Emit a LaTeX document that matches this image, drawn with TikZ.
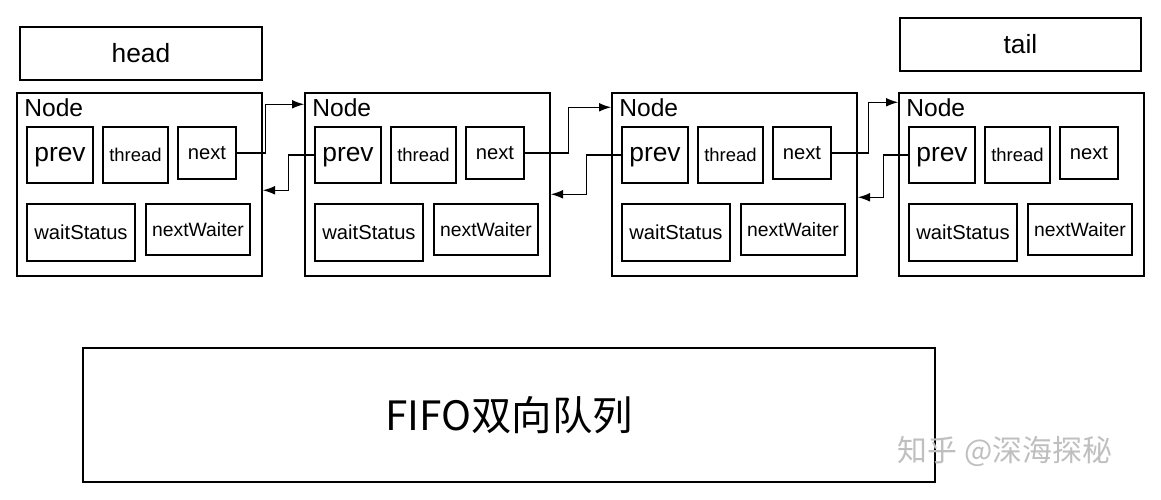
\documentclass[tikz,border=0pt]{standalone}
\usepackage{fontspec}
\setmainfont{Liberation Sans}
\newfontfamily\cjk{Noto Sans CJK SC}
\usetikzlibrary{positioning,arrows.meta}
\tikzset{
  box/.style={draw, line width=0.8pt, inner sep=0pt},
  link/.style={draw, line width=0.8pt, -{Latex[length=7pt,width=5pt]}},
}
\begin{document}
\begin{tikzpicture}[x=0.02cm, y=-0.02cm]
  \useasboundingbox (0,0) rectangle (1161,500);
  \node[box, minimum width=242*0.02cm, minimum height=53*0.02cm, font=\fontsize{15}{15}\selectfont] (head) at (141,53.5) {head};
  \node[box, minimum width=241*0.02cm, minimum height=53*0.02cm, font=\fontsize{15}{15}\selectfont] (tail) at (1020.5,44.5) {tail};
  % four nodes of the queue
  \foreach \n/\x in {1/17, 2/305, 3/612, 4/899} {
    \node[box, minimum width=245*0.02cm, minimum height=183*0.02cm] (N\n) at (\x+122.5,184.5) {};
    \node[anchor=west, inner sep=0pt, font=\fontsize{14}{14}\selectfont] (L\n) at (\x+7,108) {Node};
    \node[box, minimum width=66*0.02cm, minimum height=56*0.02cm, text height=9pt, text depth=2pt, font=\fontsize{15}{15}\selectfont] (P\n) at (\x+43,155) {prev};
    \node[box, minimum width=65*0.02cm, minimum height=56*0.02cm, font=\fontsize{10.5}{10.5}\selectfont] (T\n) at (\x+118.5,155) {thread};
    \node[box, minimum width=58*0.02cm, minimum height=52*0.02cm, font=\fontsize{11.5}{11.5}\selectfont] (X\n) at (\x+190,153) {next};
    \node[box, minimum width=108*0.02cm, minimum height=57*0.02cm, font=\fontsize{11.5}{11.5}\selectfont] (W\n) at (\x+64,232.5) {waitStatus};
    \node[box, minimum width=104*0.02cm, minimum height=51*0.02cm, font=\fontsize{11}{11}\selectfont] (V\n) at (\x+181,229.5) {nextWaiter};
  }
  % next links
  \draw[link] (X1.east) -- ++(29,0) |- ([yshift=-12*0.02cm]N2.north west);
  \draw[link] (X2.east) -- ++(44,0) |- ([yshift=-15*0.02cm]N3.north west);
  \draw[link] (X3.east) -- ++(37,0) |- ([yshift=-10*0.02cm]N4.north west);
  % prev links
  \draw[link] (P2.west) -- ++(-26,0) |- ([yshift=-98*0.02cm]N1.north east);
  \draw[link] (P3.west) -- ++(-35,0) |- ([yshift=-102*0.02cm]N2.north east);
  \draw[link] (P4.west) -- ++(-25,0) |- ([yshift=-105*0.02cm]N3.north east);
  \node[box, minimum width=852*0.02cm, minimum height=134*0.02cm, font=\cjk\fontsize{23}{23}\selectfont] (fifo) at (509,415) {FIFO双向队列};
  \node[font=\cjk\fontsize{17}{17}\selectfont, text=black!25] (mark) at (1005,452) {知乎 @深海探秘};
\end{tikzpicture}
\end{document}
